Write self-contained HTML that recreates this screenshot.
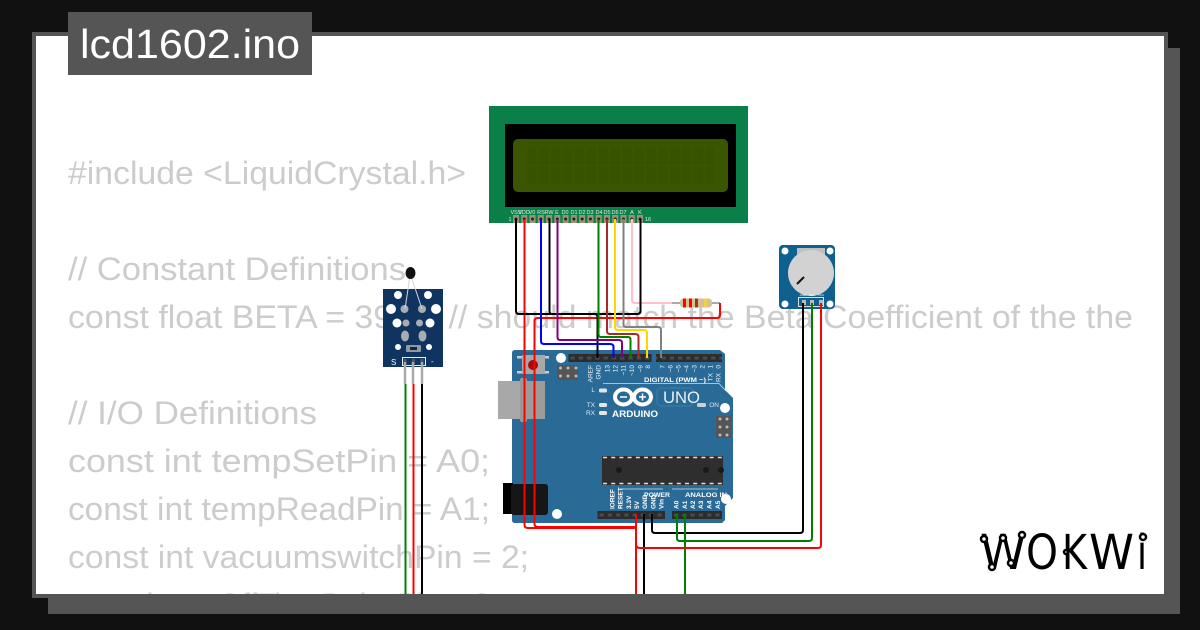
<!DOCTYPE html>
<html><head><meta charset="utf-8"><style>
html,body{margin:0;padding:0;background:#111;width:1200px;height:630px;overflow:hidden}
svg{display:block}
text{font-family:"Liberation Sans",sans-serif}
</style></head><body>
<svg width="1200" height="630" viewBox="0 0 1200 630" xmlns="http://www.w3.org/2000/svg">
<defs>
<pattern id="hdr" x="568.5" y="354" width="8.27" height="8" patternUnits="userSpaceOnUse"><rect width="8.27" height="8" fill="#2c2c2c"/><rect x="2" y="2.500" width="4.300" height="3" fill="#4a4a4a"/></pattern>
<pattern id="hdrb" x="597.5" y="511" width="8.27" height="8" patternUnits="userSpaceOnUse"><rect width="8.27" height="8" fill="#2c2c2c"/><rect x="2" y="2.500" width="4.300" height="3" fill="#4a4a4a"/></pattern>
<clipPath id="pc"><rect x="36" y="36" width="1128" height="558"/></clipPath>
</defs>
<rect width="1200" height="630" fill="#111"/>
<rect x="48" y="48" width="1132" height="566" fill="#555"/>
<rect x="32" y="32" width="1136" height="566" fill="#555"/>
<rect x="36" y="36" width="1128" height="558" fill="#fff"/>
<rect x="68" y="12" width="244" height="63" fill="#555"/>
<text x="80" y="58" font-size="41" fill="#fff" textLength="220" lengthAdjust="spacingAndGlyphs">lcd1602.ino</text>

<g clip-path="url(#pc)" font-size="32" fill="#ccc">
<text x="68" y="184" textLength="398" lengthAdjust="spacingAndGlyphs">#include &lt;LiquidCrystal.h&gt;</text>
<text x="68" y="280" textLength="338" lengthAdjust="spacingAndGlyphs">// Constant Definitions</text>
<text x="68" y="328" textLength="1065" lengthAdjust="spacingAndGlyphs">const float BETA = 3950; // should match the Beta Coefficient of the the</text>
<text x="68" y="424" textLength="249" lengthAdjust="spacingAndGlyphs">// I/O Definitions</text>
<text x="68" y="472" textLength="422" lengthAdjust="spacingAndGlyphs">const int tempSetPin = A0;</text>
<text x="68" y="520" textLength="422" lengthAdjust="spacingAndGlyphs">const int tempReadPin = A1;</text>
<text x="68" y="568" textLength="461" lengthAdjust="spacingAndGlyphs">const int vacuumswitchPin = 2;</text>
<text x="68" y="616" textLength="430" lengthAdjust="spacingAndGlyphs">const int onOffTimeDelayPin = 3;</text>
</g>

<!-- LCD -->
<rect x="489" y="106" width="259" height="117" fill="#0a8048"/>
<rect x="505" y="124" width="231" height="83" fill="#000"/>
<rect x="513" y="139" width="215" height="53" rx="5" fill="#3a5600"/>
<g stroke="#385300" stroke-width="17" stroke-dasharray="9.500 2.400"><line x1="527" y1="156" x2="714" y2="156"/><line x1="527" y1="175" x2="714" y2="175"/></g>
<line x1="513" y1="219" x2="643" y2="219" stroke="#9b9373" stroke-width="8" stroke-dasharray="6 2.27"/>
<line x1="516" y1="219" x2="641" y2="219" stroke="#222" stroke-width="3" stroke-linecap="round" stroke-dasharray="0 8.27"/>
<g font-size="5.500" fill="#dfeee6" text-anchor="middle">
<text x="516" y="214">VSS</text><text x="524" y="214">VDD</text><text x="532" y="214">V0</text><text x="541" y="214">RS</text><text x="549" y="214">RW</text><text x="557" y="214">E</text><text x="565" y="214">D0</text><text x="574" y="214">D1</text><text x="582" y="214">D2</text><text x="590" y="214">D3</text><text x="599" y="214">D4</text><text x="607" y="214">D5</text><text x="615" y="214">D6</text><text x="623" y="214">D7</text><text x="632" y="214">A</text><text x="640" y="214">K</text>
<text x="510" y="221">1</text><text x="648" y="221">16</text>
</g>

<!-- Arduino board -->
<path d="M515 350H720L725 354V390L733 398V498L725 506V520L722 523H515Q512 523 512 520V353Q512 350 515 350Z" fill="#2a6a97"/>
<rect x="498" y="381" width="47" height="38" fill="#a8a8a8"/>
<rect x="520" y="378" width="7" height="44" rx="2" fill="#999"/>
<rect x="527" y="381" width="18" height="38" fill="#9c9c9c"/>
<rect x="503" y="483" width="10" height="31" fill="#000"/>
<rect x="511" y="484" width="37" height="31" rx="3" fill="#161616"/>
<rect x="522" y="355" width="23" height="19" fill="#a8a8a8"/>
<rect x="517" y="356" width="5" height="2.500" fill="#ccc"/><rect x="517" y="371" width="5" height="2.500" fill="#ccc"/><rect x="545" y="356" width="4" height="2.500" fill="#ccc"/><rect x="545" y="371" width="4" height="2.500" fill="#ccc"/>
<circle cx="533" cy="365" r="5" fill="#a80a0a"/>
<circle cx="561" cy="358" r="5" fill="#fff"/><circle cx="725" cy="408" r="5" fill="#fff"/><circle cx="557" cy="514" r="5" fill="#fff"/><circle cx="726" cy="499" r="5" fill="#fff"/>
<rect x="557" y="365" width="21" height="15" fill="#555"/>
<g fill="#bbb"><circle cx="560.500" cy="368" r="1.500"/><circle cx="568" cy="368" r="1.500"/><circle cx="576" cy="368" r="1.500"/><circle cx="560.500" cy="376" r="1.500"/><circle cx="568" cy="376" r="1.500"/><circle cx="576" cy="376" r="1.500"/></g>
<rect x="716" y="416" width="15" height="22" fill="#555"/>
<g fill="#bbb"><circle cx="720" cy="419" r="1.500"/><circle cx="727" cy="419" r="1.500"/><circle cx="720" cy="427" r="1.500"/><circle cx="727" cy="427" r="1.500"/><circle cx="720" cy="435" r="1.500"/><circle cx="727" cy="435" r="1.500"/></g>
<rect x="568.500" y="354" width="83" height="8" fill="url(#hdr)"/>
<rect x="656" y="354" width="66" height="8" fill="url(#hdr)"/>
<rect x="597.500" y="511" width="67.500" height="8" fill="url(#hdrb)"/>
<rect x="672" y="511" width="50" height="8" fill="url(#hdrb)"/>
<rect x="602" y="456" width="121" height="29" fill="#2e2e2e"/>
<line x1="603" y1="457.500" x2="722" y2="457.500" stroke="#ddd" stroke-width="1.500" stroke-dasharray="4 4.200"/>
<line x1="603" y1="483.500" x2="722" y2="483.500" stroke="#ddd" stroke-width="1.500" stroke-dasharray="4 4.200"/>
<circle cx="619" cy="470" r="3" fill="#191919"/><circle cx="706" cy="470" r="3" fill="#191919"/><circle cx="721" cy="470" r="3" fill="#191919"/>

<!-- Arduino logo -->
<g fill="none" stroke="#fff" stroke-width="4"><ellipse cx="623.500" cy="397" rx="8.500" ry="7.500"/><ellipse cx="642.500" cy="397" rx="8.500" ry="7.500"/></g>
<g stroke="#fff" stroke-width="1.500"><line x1="620" y1="397" x2="627" y2="397"/><line x1="639" y1="397" x2="646" y2="397"/><line x1="642.500" y1="393.500" x2="642.500" y2="400.500"/></g>
<text x="612" y="417" font-size="9.500" font-weight="bold" fill="#fff" textLength="46" lengthAdjust="spacingAndGlyphs">ARDUINO</text>
<rect x="657" y="388" width="36" height="18" rx="4" fill="none" stroke="#3f7fab" stroke-width="1"/>
<text x="663" y="403" font-size="17" fill="#e8f0f5" textLength="37" lengthAdjust="spacingAndGlyphs">UNO</text>
<path d="M603 383.500H719L726 391" fill="none" stroke="#cfe0ec" stroke-width=".8"/>
<line x1="622" y1="489" x2="663" y2="489" stroke="#cfe0ec" stroke-width=".8"/>
<line x1="672" y1="489" x2="718" y2="489" stroke="#cfe0ec" stroke-width=".8"/>
<text x="644" y="382" font-size="6.500" font-weight="bold" fill="#fff" textLength="62" lengthAdjust="spacingAndGlyphs">DIGITAL (PWM ~)</text>
<text x="644" y="497" font-size="6.500" font-weight="bold" fill="#fff" textLength="26" lengthAdjust="spacingAndGlyphs">POWER</text>
<text x="685" y="497" font-size="6.500" font-weight="bold" fill="#fff" textLength="42" lengthAdjust="spacingAndGlyphs">ANALOG IN</text>
<g font-size="6.500" fill="#eef4f8" text-anchor="end">
<text transform="translate(592.500 365) rotate(-90)">AREF</text>
<text transform="translate(600.500 365) rotate(-90)">GND</text>
<text transform="translate(609.500 365) rotate(-90)">13</text>
<text transform="translate(617.500 365) rotate(-90)">12</text>
<text transform="translate(625.500 365) rotate(-90)">~11</text>
<text transform="translate(634 365) rotate(-90)">~10</text>
<text transform="translate(642.500 365) rotate(-90)">~9</text>
<text transform="translate(650 365) rotate(-90)">8</text>
<text transform="translate(664.500 365) rotate(-90)">7</text>
<text transform="translate(672.500 365) rotate(-90)">~6</text>
<text transform="translate(680.500 365) rotate(-90)">~5</text>
<text transform="translate(688.500 365) rotate(-90)">~4</text>
<text transform="translate(696.500 365) rotate(-90)">~3</text>
<text transform="translate(704.500 365) rotate(-90)">2</text>
<text transform="translate(712.500 365) rotate(-90)">1</text>
<text transform="translate(720.500 365) rotate(-90)">0</text>
<text transform="translate(712.500 373) rotate(-90)">TX</text>
<text transform="translate(720.500 373) rotate(-90)">RX</text>
</g>
<g font-size="6.500" font-weight="bold" fill="#fff" text-anchor="start">
<text transform="translate(614.500 509) rotate(-90)">IOREF</text>
<text transform="translate(622.500 509) rotate(-90)">RESET</text>
<text transform="translate(631 509) rotate(-90)">3.3V</text>
<text transform="translate(639 509) rotate(-90)">5V</text>
<text transform="translate(647 509) rotate(-90)">GND</text>
<text transform="translate(655.500 509) rotate(-90)">GND</text>
<text transform="translate(663.500 509) rotate(-90)">Vin</text>
<text transform="translate(678.500 509) rotate(-90)">A0</text>
<text transform="translate(687 509) rotate(-90)">A1</text>
<text transform="translate(695 509) rotate(-90)">A2</text>
<text transform="translate(703 509) rotate(-90)">A3</text>
<text transform="translate(711.500 509) rotate(-90)">A4</text>
<text transform="translate(720 509) rotate(-90)">A5</text>
</g>
<g font-size="6.500" fill="#dfe9f1" text-anchor="end">
<text x="595" y="392">L</text><text x="595" y="407">TX</text><text x="595" y="415">RX</text>
<text x="719" y="407">ON</text>
</g>
<g fill="#e4e4e4"><rect x="599" y="388.500" width="8" height="4" rx="1.500"/><rect x="599" y="403" width="8" height="4" rx="1.500"/><rect x="599" y="411" width="8" height="4" rx="1.500"/><rect x="697" y="403" width="9" height="4" rx="1.500" fill="#cfcfcf"/></g>

<!-- Temperature sensor -->
<rect x="383" y="289" width="60" height="78" fill="#0f3460"/>
<g fill="#fff">
<circle cx="398" cy="295" r="4"/><circle cx="428" cy="295" r="4"/>
<circle cx="391" cy="309" r="5"/><circle cx="436" cy="309" r="5"/>
<circle cx="397" cy="323" r="4.500"/><circle cx="430" cy="323" r="4.500"/>
<circle cx="398" cy="347" r="3"/><circle cx="429" cy="347" r="3"/>
</g>
<g fill="#a8adb3">
<circle cx="404.500" cy="309" r="4"/><circle cx="422" cy="309" r="4"/>
<circle cx="406" cy="323" r="3.500"/><circle cx="419.500" cy="323" r="3.500"/>
<ellipse cx="405" cy="336" rx="4" ry="5.500"/><ellipse cx="422.500" cy="336" rx="4" ry="5.500"/>
</g>
<rect x="406" y="345" width="15" height="7" rx="1" fill="#8c99a8"/>
<rect x="410" y="347" width="7" height="3" fill="#222"/>
<path d="M409.500 279L405 309M412 279L422 309" stroke="#d5d5d5" stroke-width="1" fill="none"/>
<ellipse cx="410.500" cy="273" rx="5" ry="6" fill="#111"/>
<text x="391" y="365" font-size="8" fill="#fff">S</text>
<text x="431" y="364" font-size="8" fill="#fff">-</text>
<rect x="402.500" y="357.500" width="23" height="8" fill="#0f3460" stroke="#eee" stroke-width="1"/>
<g fill="#555"><rect x="403.500" y="359" width="3" height="5"/><rect x="412" y="359" width="3" height="5"/><rect x="420.500" y="359" width="3" height="5"/></g>
<g stroke="#aaa" stroke-width="2.500"><line x1="405" y1="362" x2="405" y2="384"/><line x1="413" y1="362" x2="413" y2="384"/><line x1="422" y1="362" x2="422" y2="384"/></g>
<g stroke-width="2"><line x1="405.500" y1="384" x2="405.500" y2="594" stroke="#008000"/><line x1="413.500" y1="384" x2="413.500" y2="594" stroke="#f00"/><line x1="422" y1="384" x2="422" y2="594" stroke="#000"/></g>

<!-- Potentiometer -->
<rect x="779" y="245" width="56" height="64" rx="4" fill="#0f5f8f"/>
<circle cx="785" cy="251" r="3.500" fill="#fff"/><circle cx="830" cy="251" r="3.500" fill="#fff"/><circle cx="785" cy="304" r="3.500" fill="#fff"/><circle cx="830" cy="304" r="3.500" fill="#fff"/>
<rect x="797" y="248" width="28" height="8" fill="#bfbfbf"/>
<circle cx="811" cy="273" r="23" fill="#d2d2d2"/>
<line x1="797" y1="284" x2="804" y2="277" stroke="#111" stroke-width="2"/>
<rect x="798.500" y="297.500" width="25" height="9" fill="none" stroke="#ddd" stroke-width="1"/>
<g fill="#bbb"><rect x="802" y="300" width="4" height="5"/><rect x="810" y="300" width="4" height="5"/><rect x="819" y="300" width="4" height="5"/></g>
<g font-size="3" fill="#fff" text-anchor="middle"><text x="803" y="296">GND</text><text x="812" y="296">SIG</text><text x="821" y="296">VCC</text></g>

<!-- Wires -->
<g fill="none" stroke-width="2" stroke-linejoin="round">
<path d="M672 303H680" stroke="#aaa"/>
<path d="M712 303H720" stroke="#aaa"/>
<path d="M632 219V300Q632 303 635 303H672" stroke="#ffc0cb"/>
<path d="M720 303V315Q720 318 717 318H538Q534.500 318 534.500 321V524Q534.500 527 538 527H636" stroke="#f00"/>
<path d="M524.500 219V525Q524.500 528 528 528H634Q636 528 636 525V514" stroke="#f00"/>
<path d="M516 219V311Q516 314 519 314H594Q597.500 314 597.500 317V358" stroke="#000"/>
<path d="M549.500 219V311Q549.500 314 552 314" stroke="#000"/>
<path d="M640.500 219V311Q640.500 314 637 314H594" stroke="#000"/>
<path d="M541 219V341Q541 344 544 344H610Q613.500 344 613.500 347V358" stroke="#00f"/>
<path d="M557.500 219V337Q557.500 340 560 340H619Q622 340 622 343V358" stroke="#800080"/>
<path d="M598.500 219V334Q598.500 337 601 337H628Q630.500 337 630.500 340V358" stroke="#008000"/>
<path d="M607 219V331Q607 334 610 334H635Q638.500 334 638.500 337V358" stroke="#a52a2a"/>
<path d="M615 219V327Q615 330 618 330H644Q647 330 647 333V358" stroke="#ffd700"/>
<path d="M623.500 219V324Q623.500 327 626 327H658Q661 327 661 330V358" stroke="#808080"/>
<path d="M636 514V594" stroke="#f00"/>
<path d="M644 514V594" stroke="#000"/>
<path d="M652 514V530Q652 533 655 533H800Q803 533 803 530V303" stroke="#000"/>
<path d="M677 514V538Q677 541 680 541H809Q812 541 812 538V303" stroke="#008000"/>
<path d="M685 514V594" stroke="#008000"/>
<path d="M636 544Q636 548 640 548H818Q821 548 821 545V303" stroke="#f00"/>
</g>

<!-- Resistor -->
<rect x="680" y="298.500" width="32" height="9" rx="3.500" fill="#d8bf95"/>
<rect x="683" y="298.500" width="3" height="9" fill="#f00"/>
<rect x="689" y="298.500" width="3" height="9" fill="#f00"/>
<rect x="695" y="298.500" width="3" height="9" fill="#8b4513"/>
<rect x="704" y="298.500" width="3" height="9" fill="#f0d050"/>

<!-- Wokwi logo -->
<g fill="#000" font-size="48">
<text x="980" y="569" style="font-family:'DejaVu Sans',sans-serif" textLength="46" lengthAdjust="spacingAndGlyphs">W</text>
<text x="1026" y="569" style="font-family:'DejaVu Sans',sans-serif" textLength="32" lengthAdjust="spacingAndGlyphs">O</text>
<text x="1062" y="569" style="font-family:'DejaVu Sans',sans-serif" textLength="25" lengthAdjust="spacingAndGlyphs">K</text>
<text x="1089" y="569" style="font-family:'DejaVu Sans',sans-serif" textLength="45" lengthAdjust="spacingAndGlyphs">W</text>
<text x="1137" y="569" style="font-family:'DejaVu Sans',sans-serif" textLength="10" lengthAdjust="spacingAndGlyphs">i</text>
</g>
<g fill="#fff" stroke="#000" stroke-width="2.500"><circle cx="984" cy="539" r="3"/><circle cx="1003" cy="538" r="3"/><circle cx="1022" cy="535" r="3"/><circle cx="992" cy="567" r="3"/><circle cx="1011" cy="563" r="3"/><circle cx="1066" cy="552" r="2"/><circle cx="1143" cy="537" r="3"/></g>
</svg>
</body></html>
